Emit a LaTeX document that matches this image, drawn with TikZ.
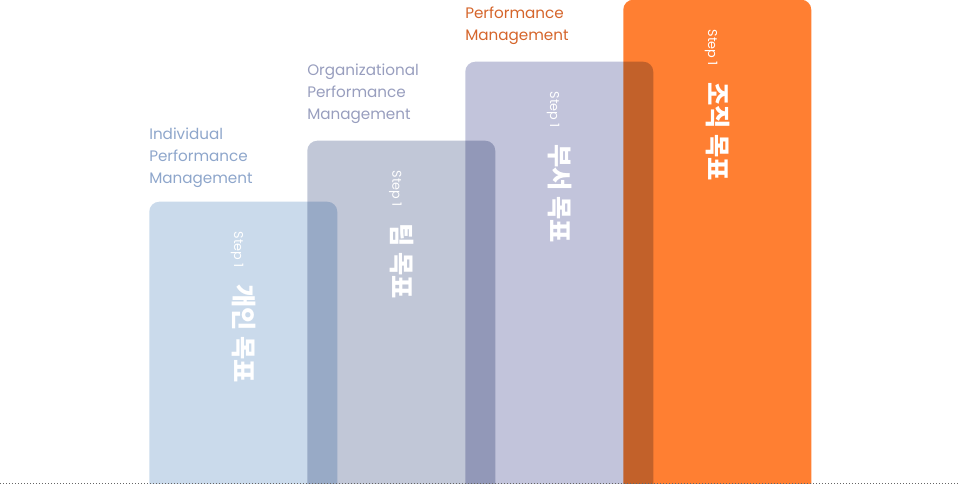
\documentclass[tikz,border=0pt]{standalone}
\usepackage{fontspec}
\setmainfont{Poppins}
\newfontfamily\kr{Noto Sans CJK KR}
\usetikzlibrary{positioning}
\definecolor{indiv}{HTML}{CADAEB}
\definecolor{team}{HTML}{C1C7D7}
\definecolor{dept}{HTML}{C2C4DB}
\definecolor{org}{HTML}{FF7F32}
\definecolor{indivtxt}{HTML}{8EA6CB}
\definecolor{teamtxt}{HTML}{989EBE}
\definecolor{orgtxt}{HTML}{D5652B}
\newcommand{\stp}{{\fontsize{9.6}{9.6}\selectfont Step 1}\hspace{12pt}}
\newcommand{\goal}[1]{{\kr\bfseries\fontsize{19}{19}\selectfont #1}}

\begin{document}
\begin{tikzpicture}[x=0.75pt,y=-0.75pt,
  bar/.style={draw=none,rounded corners=7.5pt,minimum width=141pt,inner sep=0pt,anchor=south west},
  bartext/.style={text=white,rotate=-90,anchor=west,inner sep=0pt},
  lbl/.style={align=left,inner sep=0pt,font=\fontsize{11.4}{16.5}\selectfont}]
  \useasboundingbox (0,0) rectangle (960,484);
  \clip (0,0) rectangle (960,484);
  % bars, overlaps come out darker
  \begin{scope}[blend group=multiply]
    \node[bar,fill=indiv,minimum height=223.5pt] (b1) at (149,500) {};
    \node[bar,fill=team,minimum height=269.25pt] (b2) at (307,500) {};
    \node[bar,fill=dept,minimum height=328.5pt] (b3) at (465,500) {};
    \node[bar,fill=org,minimum height=375pt] (b4) at (623,500) {};
  \end{scope}
  \node[below=22.5pt of b1.north,bartext] (t1) {\stp\goal{개인 목표}};
  \node[below=22.5pt of b2.north,bartext] (t2) {\stp\goal{팀 목표}};
  \node[below=22.5pt of b3.north,bartext] (t3) {\stp\goal{부서 목표}};
  \node[below=22.5pt of b4.north,bartext] (t4) {\stp\goal{조직 목표}};
  \node[lbl,text=indivtxt,above right=10.5pt and 0pt of b1.north west] (l1) {Individual\\Performance\\Management};
  \node[lbl,text=teamtxt,above right=12.75pt and 0pt of b2.north west] (l2) {Organizational\\Performance\\Management};
  \node[lbl,text=orgtxt,above right=12.75pt and 0pt of b3.north west] (l3) {Performance\\Management};
  \coordinate (floor west) at (0,483.5);
  \coordinate (floor east) at (960,483.5);
  \draw[gray!80!black,line width=0.75pt,dash pattern=on 0.75pt off 1.5pt] (floor west) -- (floor east);
\end{tikzpicture}
\end{document}
